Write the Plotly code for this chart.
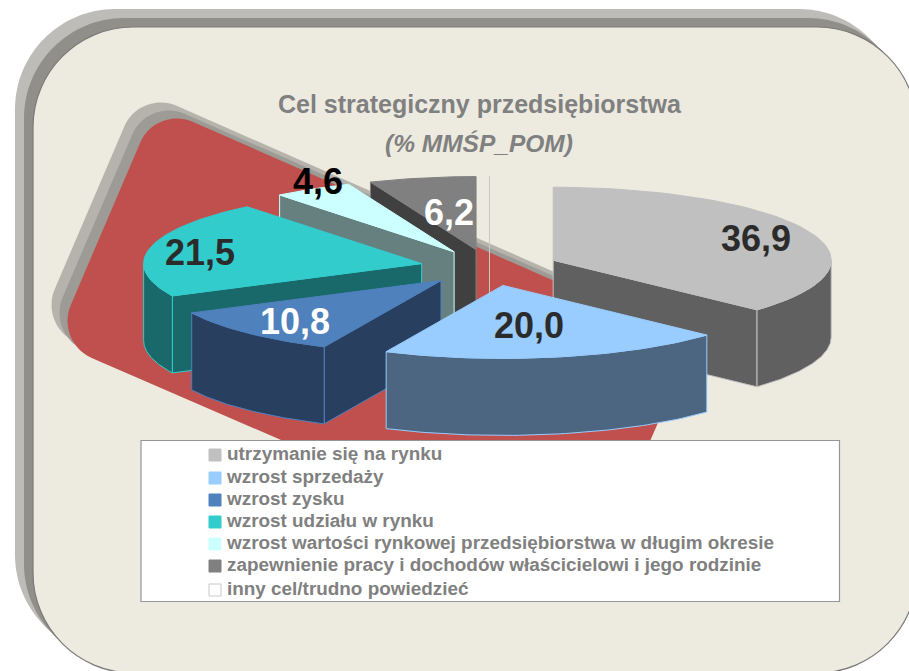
# -*- coding: utf-8 -*-
"""
Cel strategiczny przedsiebiorstwa - exploded 3D pie drawn with filled scatter traces
"""

import numpy as np
import plotly.graph_objects as go

# data
categories = [
    "utrzymanie się na rynku",
    "wzrost sprzedaży",
    "wzrost zysku",
    "wzrost udziału w rynku",
    "wzrost wartości rynkowej przedsiębiorstwa w długim okresie",
    "zapewnienie pracy i dochodów właścicielowi i jego rodzinie",
    "inny cel/trudno powiedzieć",
]
values = [36.9, 20.0, 10.8, 21.5, 4.6, 6.2, 0.0]
value_labels = ["36,9", "20,0", "10,8", "21,5", "4,6", "6,2"]

# colours
top_colors = ["#c0c0c0", "#99ccff", "#4f81bd", "#33cccc", "#ccffff", "#808080", "#ffffff"]
side_colors = ["#606060", "#4c6580", "#283f5f", "#19686a", "#667f7f", "#404040", "#ffffff"]
edge_colors = ["#c0c0c0", "#99ccff", "#4f81bd", "#33cccc", "#ccffff", "#808080", "#c8c8c8"]
label_colors = ["#2b2b2b", "#2b2b2b", "#ffffff", "#2b2b2b", "#000000", "#ffffff"]

# layout of the pie, in page pixels
cx, cy = 489.5, 267.5
rx, ry = 278, 73
explode = 0.25
depth = 77
draw_order = [6, 0, 5, 4, 3, 2, 1]

label_x = [756, 529, 295, 200, 318, 449]
label_y = [238, 325, 321, 252, 181, 212]
legend_y = [455, 478, 500, 522, 544, 566, 590]

FONT = "Liberation Sans"


def rounded(corners, r):
    """svg path of a polygon with rounded corners"""
    pts = [np.array(p, dtype=float) for p in corners]
    path = ""
    n = len(pts)
    for i in range(n):
        p, prev, nxt = pts[i], pts[i - 1], pts[(i + 1) % n]
        a = p + (prev - p) / np.linalg.norm(prev - p) * r
        b = p + (nxt - p) / np.linalg.norm(nxt - p) * r
        c1 = a + (p - a) * 0.55
        c2 = b + (p - b) * 0.55
        path += f"{'M' if i == 0 else 'L'} {a[0]:.1f},{a[1]:.1f} "
        path += f"C {c1[0]:.1f},{c1[1]:.1f} {c2[0]:.1f},{c2[1]:.1f} {b[0]:.1f},{b[1]:.1f} "
    return path + "Z"


def layered(corners, r, step, colors, edge=None):
    """stack of rounded shapes, each one shifted up-left from the next"""
    out = []
    for k, color in enumerate(colors):
        off = step * (len(colors) - 1 - k)
        moved = [(x - off, y - off) for x, y in corners]
        line = dict(width=0)
        if edge is not None and k == len(colors) - 1:
            line = dict(color=edge, width=1.2)
        out.append(dict(type="path", path=rounded(moved, r), fillcolor=color,
                        line=line, layer="below", xref="x", yref="y"))
    return out


def ell(ax, ay, theta):
    return ax + rx * np.sin(theta), ay - ry * np.cos(theta)


def poly(fig, x, y, fill, edge):
    fig.add_trace(go.Scatter(
        x=list(x) + [x[0]],
        y=list(y) + [y[0]],
        mode="lines",
        fill="toself",
        fillcolor=fill,
        line=dict(color=edge, width=1),
        hoverinfo="skip",
        showlegend=False,
    ))


fig = go.Figure()

# slices
bounds = np.radians(np.cumsum([0] + values) * 3.6)
for i in draw_order:
    start, end = bounds[i], bounds[i + 1]
    mid = (start + end) / 2
    ax = cx + explode * rx * np.sin(mid)
    ay = cy - explode * ry * np.cos(mid)
    arc = np.linspace(start, end, 60)
    ex, ey = ell(ax, ay, arc)

    # radial walls that face the viewer
    for theta, visible in ((start, np.sin(start) < 0), (end, np.sin(end) > 0)):
        if visible or values[i] == 0:
            px, py = ell(ax, ay, theta)
            poly(fig, [ax, px, px, ax], [ay, py, py + depth, ay + depth], side_colors[i], edge_colors[i])

    # outer wall, front half only
    lo, hi = max(start, np.pi / 2), min(end, 3 * np.pi / 2)
    if hi > lo:
        front = np.linspace(lo, hi, 60)
        fx, fy = ell(ax, ay, front)
        poly(fig, list(fx) + list(fx[::-1]), list(fy) + list(fy[::-1] + depth), side_colors[i], edge_colors[i])

    # top
    poly(fig, [ax] + list(ex), [ay] + list(ey), top_colors[i], edge_colors[i])

# legend swatches and text
fig.add_trace(go.Scatter(
    x=[215] * len(categories),
    y=legend_y,
    mode="markers",
    marker=dict(symbol="square", size=12, color=top_colors,
                line=dict(color=[c if c != "#ffffff" else "#c8c8c8" for c in top_colors], width=1)),
    hoverinfo="skip",
    showlegend=False,
))
fig.add_trace(go.Scatter(
    x=[227] * len(categories),
    y=legend_y,
    mode="text",
    text=categories,
    textposition="middle right",
    textfont=dict(family=FONT, size=18.9, color="#808080", weight="bold"),
    hoverinfo="skip",
    showlegend=False,
))

# value labels
for t, x, y, c in zip(value_labels, label_x, label_y, label_colors):
    fig.add_annotation(x=x, y=y, text=f"<b>{t}</b>", showarrow=False,
                       font=dict(family=FONT, size=36, color=c))

fig.add_annotation(x=480, y=104, text="<b>Cel strategiczny przedsiębiorstwa</b>", showarrow=False,
                   font=dict(family=FONT, size=25, color="#808080"))
fig.add_annotation(x=478.5, y=143, text="<b><i>(% MMŚP_POM)</i></b>", showarrow=False,
                   font=dict(family=FONT, size=24.5, color="#808080"))

# backdrop
panel = [(33, 27), (917, 27), (917, 673), (33, 673)]
red = [(156, 105.6), (693, 342), (592, 575), (55, 342)]
shapes = layered(panel, 100, 9, ["#bdbcb9", "#918f8a", "#edebe0"], edge="#7a7a7a")
shapes += layered(red, 40, 8, ["#b5b3ac", "#9c9b95", "#c0504d"])
shapes.append(dict(type="rect", x0=141, x1=839.5, y0=440.5, y1=601.5, fillcolor="#ffffff",
                   line=dict(color="#969696", width=1.2), layer="below", xref="x", yref="y"))

fig.update_layout(
    width=909,
    height=671,
    margin=dict(l=0, r=0, t=0, b=0),
    paper_bgcolor="white",
    plot_bgcolor="white",
    shapes=shapes,
    showlegend=False,
    hovermode=False,
    xaxis=dict(range=[0, 909], visible=False, fixedrange=True),
    yaxis=dict(range=[671, 0], visible=False, fixedrange=True),
)

fig.write_html("out.html", config=dict(displayModeBar=False),
               post_script="document.body.style.margin='0';")
